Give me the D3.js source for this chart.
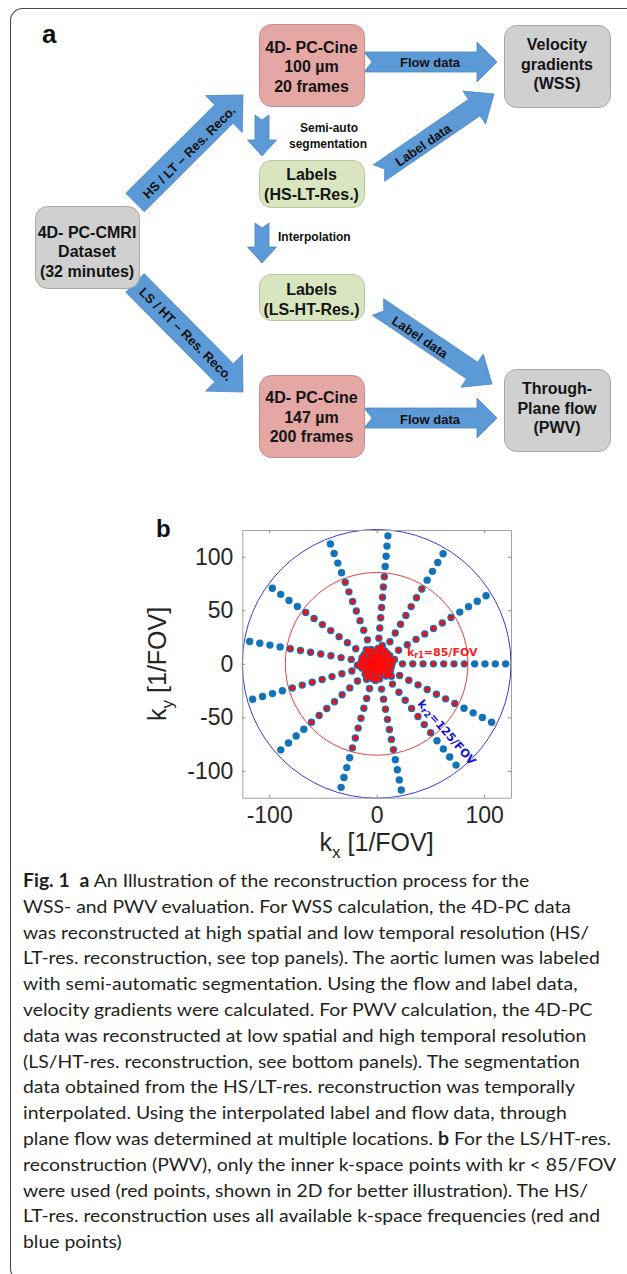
<!DOCTYPE html>
<html>
<head>
<meta charset="utf-8">
<script src="https://cdn.jsdelivr.net/npm/d3@7"></script>
<style>
html, body { margin: 0; padding: 0; background: #fff; }
svg { display: block; }
</style>
</head>
<body>
<svg id="fig" width="627" height="1274"></svg>
<script>
// ---------- panel a: flowchart content ----------
const nodeIds = ["cine1", "velocity", "labels1", "dataset", "labels2", "cine2", "throughPlane"];
const nodeLines = [
    ["4D- PC-Cine", "100 µm", "20 frames"],
    ["Velocity", "gradients", "(WSS)"],
    ["Labels", "(HS-LT-Res.)"],
    ["4D- PC-CMRI", "Dataset", "(32 minutes)"],
    ["Labels", "(LS-HT-Res.)"],
    ["4D- PC-Cine", "147 µm", "200 frames"],
    ["Through-", "Plane flow", "(PWV)"]
];
const nodeKinds = ["cine", "result", "labels", "input", "labels", "cine", "result"];

const arrowIds = ["hsReco", "lsReco", "semiAuto", "interp", "flowTop", "flowBottom", "labelTop", "labelBottom"];
const arrowTexts = ["HS / LT – Res. Reco.", "LS / HT – Res. Reco.", "", "", "Flow data", "Flow data", "Label data", "Label data"];

// ---------- panel b: k-space sampling ----------
const spokeAngles = [0, 32, 59, 85, 111, 144, 170, 196, 222, 254, 281, 308, 333];   // degrees
const sampleRadii = [4.8, 14.4, 24, 33.6, 43.2, 52.8, 62.4, 72, 81.6, 91.2, 100.8, 110.4, 120];
// spokes that point mostly out of the plane and pile up round the centre (inner samples only)
const centreSpokeAngles = [14, 46, 73, 99, 126, 157, 184, 210, 237, 266, 293, 320, 347, 120, 250, 30, 200];
const centreSpokeScales = [0.21, 0.17, 0.22, 0.14, 0.20, 0.18, 0.22, 0.15, 0.21, 0.19, 0.13, 0.22, 0.17, 0.10, 0.09, 0.12, 0.11];
const kr1 = 85, kr2 = 125;
const xTicks = [-100, 0, 100];
const yTicks = [-100, -50, 0, 50, 100];

// caption, ** marks bold runs
const captionLines = [
    "**Fig. 1**  **a** An Illustration of the reconstruction process for the",
    "WSS- and PWV evaluation. For WSS calculation, the 4D-PC data",
    "was reconstructed at high spatial and low temporal resolution (HS/",
    "LT-res. reconstruction, see top panels). The aortic lumen was labeled",
    "with semi-automatic segmentation. Using the flow and label data,",
    "velocity gradients were calculated. For PWV calculation, the 4D-PC",
    "data was reconstructed at low spatial and high temporal resolution",
    "(LS/HT-res. reconstruction, see bottom panels). The segmentation",
    "data obtained from the HS/LT-res. reconstruction was temporally",
    "interpolated. Using the interpolated label and flow data, through",
    "plane flow was determined at multiple locations. **b** For the LS/HT-res.",
    "reconstruction (PWV), only the inner k-space points with kr < 85/FOV",
    "were used (red points, shown in 2D for better illustration). The HS/",
    "LT-res. reconstruction uses all available k-space frequencies (red and",
    "blue points)"
];

// ---------- layout ----------
const boxLayout = {
    cine1:        { x: 259, y: 24,  w: 105, h: 82, ty: 66.5 },
    velocity:     { x: 504, y: 25,  w: 106, h: 82, ty: 63.8 },
    labels1:      { x: 259, y: 160, w: 105, h: 47, ty: 184 },
    dataset:      { x: 35,  y: 206, w: 104, h: 82, ty: 251.5 },
    labels2:      { x: 259, y: 274, w: 105, h: 46, ty: 299 },
    cine2:        { x: 259, y: 375, w: 105, h: 82, ty: 417 },
    throughPlane: { x: 504, y: 369, w: 106, h: 82, ty: 408 }
};
const arrowLayout = {
    hsReco:      { from: [135, 202.5], to: [243, 95],  w: 26, hw: 52, hl: 27, notch: 0, tx: 189, ty: 152, rot: -45 },
    lsReco:      { from: [135, 283],   to: [243, 392], w: 26, hw: 52, hl: 27, notch: 0, tx: 186, ty: 334, rot: 45 },
    semiAuto:    { from: [262, 115],   to: [262, 156], w: 14, hw: 29, hl: 16, notch: 5 },
    interp:      { from: [262, 223],   to: [262, 263], w: 14, hw: 29, hl: 16, notch: 5 },
    flowTop:     { from: [364, 62],    to: [497, 62],  w: 20, hw: 40, hl: 20, notch: 8, tx: 430, ty: 62, rot: 0 },
    flowBottom:  { from: [364, 418],   to: [497, 418], w: 20, hw: 40, hl: 20, notch: 8, tx: 430, ty: 419, rot: 0 },
    labelTop:    { from: [379, 173],   to: [494, 94],  w: 20, hw: 40, hl: 24, notch: 7, tx: 423, ty: 145, rot: -34.5 },
    labelBottom: { from: [378, 307],   to: [492, 384], w: 20, hw: 40, hl: 24, notch: 7, tx: 420, ty: 337, rot: 34 }
};
const kindFill = { cine: "#e5a7a4", result: "#d0d0d0", labels: "#d8e5bf", input: "#d0d0d0" };
const kindStroke = { cine: "#c48f8d", result: "#a8a8a8", labels: "#b5c697", input: "#a8a8a8" };
const arrowFill = "#5b9ad6", arrowStroke = "#4a86c2";
const boxFont = "'Liberation Sans', Arial, Helvetica, sans-serif";

const svg = d3.select("#fig");

// outer rounded frame of the figure
svg.append("rect")
    .attr("x", 10.5).attr("y", 8.5)
    .attr("width", 640).attr("height", 1272)
    .attr("rx", 12).attr("ry", 12)
    .attr("fill", "none").attr("stroke", "#4a4a4a").attr("stroke-width", 1.1);

// panel letter a
svg.append("text")
    .attr("x", 42).attr("y", 43)
    .attr("font-family", boxFont).attr("font-weight", "bold").attr("font-size", 26)
    .attr("fill", "#111").text("a");

// arrow outline in local coords, then rotated onto the from-to line
function arrowPath(a) {
    const [x0, y0] = a.from, [x1, y1] = a.to;
    const L = Math.hypot(x1 - x0, y1 - y0);
    const ux = (x1 - x0) / L, uy = (y1 - y0) / L;
    const vx = -uy, vy = ux;
    const pts = [
        [0, -a.w / 2], [L - a.hl, -a.w / 2], [L - a.hl, -a.hw / 2], [L, 0],
        [L - a.hl, a.hw / 2], [L - a.hl, a.w / 2], [0, a.w / 2], [a.notch, 0]
    ];
    return d3.line()(pts.map(([p, q]) => [x0 + p * ux + q * vx, y0 + p * uy + q * vy])) + "Z";
}

const gArrows = svg.append("g");
arrowIds.forEach(function(id, i) {
    const a = arrowLayout[id];
    gArrows.append("path")
        .attr("d", arrowPath(a))
        .attr("fill", arrowFill)
        .attr("stroke", arrowStroke)
        .attr("stroke-width", 0.8)
        .attr("stroke-linejoin", "miter");
    if (arrowTexts[i]) {
        gArrows.append("text")
            .attr("transform", `translate(${a.tx},${a.ty}) rotate(${a.rot})`)
            .attr("text-anchor", "middle")
            .attr("dy", "0.36em")
            .attr("font-family", boxFont).attr("font-weight", "bold").attr("font-size", 13)
            .attr("fill", "#111")
            .text(arrowTexts[i]);
    }
});

// step labels beside the vertical arrows
const stepText = svg.append("g")
    .attr("font-family", boxFont).attr("font-weight", "bold").attr("font-size", 12).attr("fill", "#111");
stepText.append("text").attr("x", 329).attr("y", 132).attr("text-anchor", "middle").text("Semi-auto");
stepText.append("text").attr("x", 328).attr("y", 147.5).attr("text-anchor", "middle").text("segmentation");
stepText.append("text").attr("x", 278).attr("y", 241).text("Interpolation");

// boxes
const gBoxes = svg.append("g");
nodeIds.forEach(function(id, i) {
    const b = boxLayout[id];
    const kind = nodeKinds[i];
    gBoxes.append("rect")
        .attr("x", b.x + 0.5).attr("y", b.y + 0.5)
        .attr("width", b.w).attr("height", b.h)
        .attr("rx", 12).attr("ry", 12)
        .attr("fill", kindFill[kind])
        .attr("stroke", kindStroke[kind])
        .attr("stroke-width", 1);
    const lines = nodeLines[i];
    const lh = 19.5;
    lines.forEach(function(s, j) {
        gBoxes.append("text")
            .attr("x", b.x + b.w / 2)
            .attr("y", b.ty + (j - (lines.length - 1) / 2) * lh + 5.8)
            .attr("text-anchor", "middle")
            .attr("font-family", boxFont).attr("font-weight", "bold").attr("font-size", 16)
            .attr("fill", "#141414")
            .text(s);
    });
});

// ---------- panel b: k-space plot ----------
const x = d3.scaleLinear().domain([-125, 125]).range([242.3, 511]);
const y = d3.scaleLinear().domain([-125, 125]).range([797.7, 530]);
const gb = svg.append("g");

const points = [];
spokeAngles.forEach(function(a) {
    sampleRadii.forEach(function(r) {
        const t = a * Math.PI / 180;
        points.push({ kx: r * Math.cos(t), ky: r * Math.sin(t), r: r });
    });
});
centreSpokeAngles.forEach(function(a, i) {
    sampleRadii.filter(r => r < kr1).forEach(function(r) {
        const t = a * Math.PI / 180, s = centreSpokeScales[i];
        points.push({ kx: r * s * Math.cos(t), ky: r * s * Math.sin(t), r: r });
    });
});

// circles kr1, kr2
gb.append("circle")
    .attr("cx", x(0)).attr("cy", y(0))
    .attr("r", x(kr2) - x(0))
    .attr("fill", "none").attr("stroke", "#3a3ad8").attr("stroke-width", 1);
gb.append("circle")
    .attr("cx", x(0)).attr("cy", y(0))
    .attr("r", x(kr1) - x(0))
    .attr("fill", "none").attr("stroke", "#e84040").attr("stroke-width", 1);

gb.append("g").selectAll("circle")
    .data(points)
    .enter().append("circle")
    .attr("cx", d => x(d.kx))
    .attr("cy", d => y(d.ky))
    .attr("r", 3.7)
    .attr("fill", "#1273b9");
gb.append("g").selectAll("circle")
    .data(points.filter(d => d.r < kr1))
    .enter().append("circle")
    .attr("cx", d => x(d.kx))
    .attr("cy", d => y(d.ky))
    .attr("r", 2.4)
    .attr("fill", "#ff0a0a");

// annotations of the two radii
const annFont = "'DejaVu Sans', Verdana, sans-serif";
const kr1Text = gb.append("text")
    .attr("x", 407).attr("y", 656)
    .attr("font-family", annFont).attr("font-weight", "bold").attr("font-size", 11)
    .attr("fill", "#ff1a1a");
kr1Text.append("tspan").text("k");
kr1Text.append("tspan").attr("font-size", 8).attr("dy", 2).text("r1");
kr1Text.append("tspan").attr("dy", -2).text("=" + kr1 + "/FOV");

const kr2Text = gb.append("text")
    .attr("transform", "translate(417,704) rotate(49)")
    .attr("font-family", annFont).attr("font-weight", "bold").attr("font-size", 11.5)
    .attr("fill", "#1414d2");
kr2Text.append("tspan").text("k");
kr2Text.append("tspan").attr("font-size", 8.5).attr("dy", 2).text("r2");
kr2Text.append("tspan").attr("dy", -2).text("=" + kr2 + "/FOV");

// axes, MATLAB style: ticks pointing inward on all four sides
const axisFont = "'Liberation Sans', Arial, Helvetica, sans-serif";
const fmt = d => String(d);
function styleAxis(g) {
    g.select(".domain").attr("stroke", "#a0a0a0").attr("stroke-width", 1);
    g.selectAll(".tick line").attr("stroke", "#8c8c8c");
    g.selectAll(".tick text")
        .attr("font-family", axisFont).attr("font-size", 23).attr("fill", "#262626");
}
gb.append("g").attr("transform", `translate(0,${y(-125)})`)
    .call(d3.axisBottom(x).tickValues(xTicks).tickFormat(fmt).tickSizeInner(-3).tickSizeOuter(0).tickPadding(9))
    .call(styleAxis);
gb.append("g").attr("transform", `translate(${x(-125)},0)`)
    .call(d3.axisLeft(y).tickValues(yTicks).tickFormat(fmt).tickSizeInner(-3).tickSizeOuter(0).tickPadding(9))
    .call(styleAxis);
gb.append("g").attr("transform", `translate(0,${y(125)})`)
    .call(d3.axisTop(x).tickValues(xTicks).tickFormat("").tickSizeInner(-3).tickSizeOuter(0))
    .call(styleAxis);
gb.append("g").attr("transform", `translate(${x(125)},0)`)
    .call(d3.axisRight(y).tickValues(yTicks).tickFormat("").tickSizeInner(-3).tickSizeOuter(0))
    .call(styleAxis);

// axis titles
const xl = gb.append("text")
    .attr("x", x(0)).attr("y", 851)
    .attr("text-anchor", "middle")
    .attr("font-family", axisFont).attr("font-size", 25).attr("fill", "#262626");
xl.append("tspan").text("k");
xl.append("tspan").attr("font-size", 17).attr("dy", 7).text("x");
xl.append("tspan").attr("dy", -7).text(" [1/FOV]");

const yl = gb.append("text")
    .attr("transform", `translate(166,${y(0)}) rotate(-90)`)
    .attr("text-anchor", "middle")
    .attr("font-family", axisFont).attr("font-size", 25).attr("fill", "#262626");
yl.append("tspan").text("k");
yl.append("tspan").attr("font-size", 17).attr("dy", 7).text("y");
yl.append("tspan").attr("dy", -7).text(" [1/FOV]");

// panel letter b
svg.append("text")
    .attr("x", 156).attr("y", 537)
    .attr("font-family", boxFont).attr("font-weight", "bold").attr("font-size", 24)
    .attr("fill", "#111").text("b");

// ---------- caption ----------
const capFont = "Lato, 'Open Sans', sans-serif";
const gCap = svg.append("g")
    .attr("font-family", capFont).attr("font-size", 18).attr("fill", "#231f20");
const capTexts = captionLines.map(function(line, i) {
    const t = gCap.append("text")
        .attr("x", 0).attr("y", 887 + i * 25.8)
        .style("white-space", "pre");
    line.split("**").forEach(function(part, k) {
        if (!part) return;
        t.append("tspan")
            .attr("font-weight", k % 2 ? "bold" : "normal")
            .text(part);
    });
    return t;
});
// the printed caption face is a condensed sans; squeeze the substitute to the same measure
const refLen = capTexts[3].node().getComputedTextLength();
const squeeze = refLen > 0 ? 577 / refLen : 1;
gCap.attr("transform", `translate(23,0) scale(${squeeze},1)`);
</script>
</body>
</html>
